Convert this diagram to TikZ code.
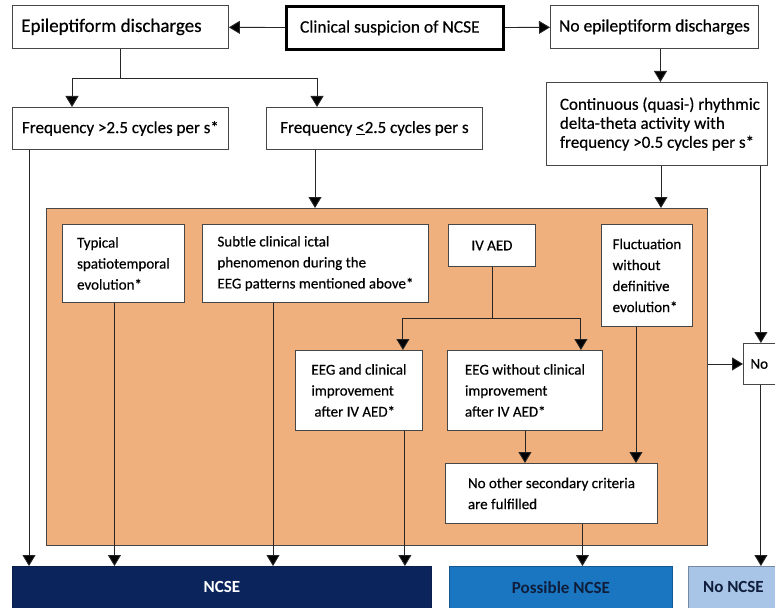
\documentclass[tikz,border=0pt]{standalone}
\usepackage{fontspec}
\setmainfont{Carlito}[UprightFeatures={FakeBold=0.4}]
\usetikzlibrary{arrows.meta}
\definecolor{critorange}{RGB}{240,176,125}
\definecolor{ncsenavy}{RGB}{11,36,92}
\definecolor{possblue}{RGB}{26,118,192}
\definecolor{nolight}{RGB}{168,196,230}
\definecolor{edgegray}{RGB}{70,70,70}
\definecolor{labeldark}{RGB}{15,30,60}
\begin{document}
\begin{tikzpicture}[x=1pt,y=-1pt,
  box/.style={draw=edgegray,fill=white,line width=0.9pt,anchor=north west,inner xsep=2pt,inner ysep=0pt,align=left},
  big/.style={font=\fontsize{17.5}{20}\selectfont},
  mid/.style={font=\fontsize{17}{19}\selectfont},
  small/.style={font=\fontsize{15}{21}\selectfont},
  result/.style={anchor=north west,inner sep=0pt,minimum height=42pt,line width=0.8pt,font=\fontsize{17}{19}\selectfont\bfseries},
  line/.style={draw=black!85,line width=0.9pt},
  arr/.style={line,-{Triangle[width=13pt,length=11pt,fill=black]}}]
\clip (0,0) rectangle (775,607);

\node[box,big,font=\fontsize{19}{22}\selectfont,minimum width=216pt,minimum height=43pt] (epi) at (12,5) {Epileptiform discharges\hspace{18pt}};
\node[box,big,draw=black,line width=2.8pt,minimum width=217pt,minimum height=43pt] (clin) at (285,5) {Clinical suspicion of NCSE\hspace{10pt}};
\node[box,big,minimum width=208pt,minimum height=43pt] (noepi) at (550,5) {No epileptiform discharges};
\node[box,mid,minimum width=216pt,minimum height=42pt] (f1) at (12,107) {Frequency >2.5 cycles per s*};
\node[box,mid,minimum width=216pt,minimum height=42pt] (f2) at (266,107) {Frequency \underline{<}2.5 cycles per s};
\node[box,mid,minimum width=221pt,minimum height=83pt] (cont) at (546,82) {\hspace{6pt}Continuous (quasi-) rhythmic\\\hspace{6pt}delta-theta activity with\\\hspace{6pt}frequency >0.5 cycles per s*};

\node[draw=edgegray,fill=critorange,line width=0.9pt,anchor=north west,inner sep=0pt,minimum width=661pt,minimum height=337pt] (crit) at (46,208) {};
\node[box,small,minimum width=122pt,minimum height=78pt] (typ) at (62,224) {Typical\\spatiotemporal\\evolution*\hspace{6pt}};
\node[box,small,minimum width=226pt,minimum height=78pt] (sub) at (202,224) {Subtle clinical ictal\\phenomenon during the\\EEG patterns mentioned above*\hspace{6pt}};
\node[box,small,minimum width=87pt,minimum height=42pt] (iv) at (448,224) {IV AED};
\node[box,small,minimum width=91pt,minimum height=102pt] (fluc) at (601,224) {Fluctuation\\without\\definitive\\evolution*};
\node[box,small,minimum width=127pt,minimum height=80pt] (eegc) at (295,350) {EEG and clinical\\improvement\\\hspace{3pt}after IV AED*};
\node[box,small,minimum width=155pt,minimum height=80pt] (eegw) at (447,350) {EEG without clinical\\improvement\\after IV AED*\hspace{12pt}};
\node[box,small,minimum width=212pt,minimum height=60pt] (noth) at (445,463) {No other secondary criteria\hspace{14pt}\\are fulfilled};
\node[box,small,inner xsep=7pt,text width=30pt,minimum height=41pt] (nobox) at (743,343) {No};

\node[result,fill=ncsenavy,draw=ncsenavy!80!black,text=white,minimum width=419pt] (ncse) at (12,566) {NCSE};
\node[result,fill=possblue,draw=possblue!75!black,text=labeldark,minimum width=223pt] (poss) at (449,566) {Possible NCSE};
\node[result,fill=nolight,draw=nolight!70!black,text=labeldark,minimum width=90pt] (nonc) at (688,566) {No NCSE};

\draw[arr] (clin) -- (epi);
\draw[arr] (clin) -- (noepi);
\coordinate (episplit) at ([yshift=-30pt]epi.south);
\draw[line] (epi.south) -- (episplit);
\draw[arr] (episplit) -| ([xshift=60pt]f1.north west);
\draw[arr] (episplit) -| ([xshift=51pt]f2.north west);
\coordinate (f1out) at ([xshift=17pt]f1.south west);
\draw[arr] (f1out) -- (f1out |- ncse.north);
\coordinate (f2out) at ([xshift=49pt]f2.south west);
\draw[arr] (f2out) -- (f2out |- crit.north);
\coordinate (noepiout) at ([xshift=6pt]noepi.south);
\draw[arr] (noepiout) -- (noepiout |- cont.north);
\coordinate (contout) at ([xshift=4pt]cont.south);
\draw[arr] (contout) -- (contout |- crit.north);
\coordinate (contno) at ([xshift=-7pt]cont.south east);
\draw[arr] (contno) -- (contno |- nobox.north);
\draw[arr] (nobox.west -| crit.east) -- (nobox.west);
\draw[arr] (contno |- nobox.south) -- (contno |- nonc.north);

\coordinate (typout) at ([xshift=-9pt]typ.south);
\draw[arr] (typout) -- (typout |- ncse.north);
\coordinate (subout) at ([xshift=71pt]sub.south west);
\draw[arr] (subout) -- (subout |- ncse.north);
\coordinate (eegcout) at ([xshift=-18pt]eegc.south east);
\draw[arr] (eegcout) -- (eegcout |- ncse.north);
\coordinate (ivsplit) at ([yshift=-52pt]iv.south);
\draw[line] (iv.south) -- (ivsplit);
\draw[arr] (ivsplit) -| ([xshift=-20pt]eegc.north east);
\draw[arr] (ivsplit) -| ([xshift=-22pt]eegw.north east);
\draw[arr] (eegw.south) -- (eegw.south |- noth.north);
\coordinate (flucout) at ([xshift=-11pt]fluc.south);
\draw[arr] (flucout) -- (flucout |- noth.north);
\coordinate (nothout) at ([xshift=31pt]noth.south);
\draw[arr] (nothout) -- (nothout |- poss.north);
\end{tikzpicture}
\end{document}
